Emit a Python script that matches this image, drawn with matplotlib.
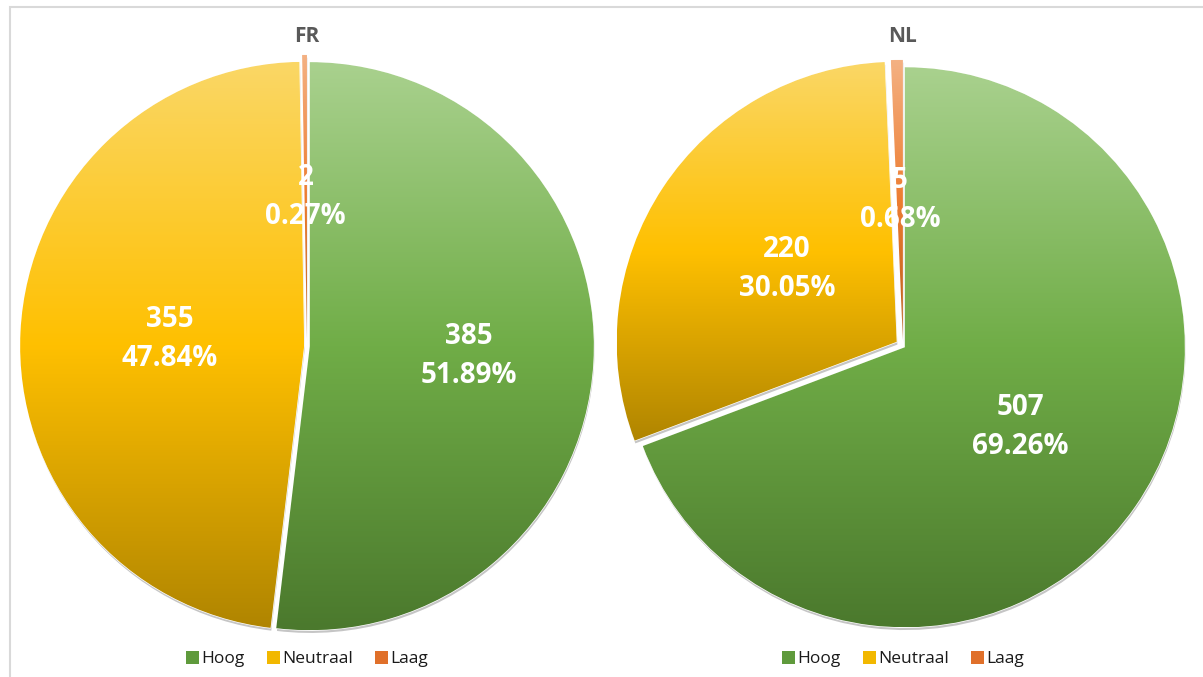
import numpy as np
import matplotlib
matplotlib.use("Agg")
import matplotlib.pyplot as plt
from matplotlib.colors import LinearSegmentedColormap
from matplotlib.patches import Patch, Rectangle
import matplotlib.patheffects as pe

plt.rcParams["font.family"] = ["Open Sans", "DejaVu Sans"]

# ---------------------------------------------------------------- data
categories = ["Hoog", "Neutraal", "Laag"]
regions = ["FR", "NL"]
fr_counts = [385, 355, 2]
nl_counts = [507, 220, 5]

# ---------------------------------------------------------------- style
base_colors = ["#70ad47", "#ffc000", "#ed7d31"]
gradients = [
    ["#a9d18e", "#70ad47", "#4b792d"],   # green
    ["#fad766", "#ffc000", "#b08500"],   # yellow
    ["#f4b183", "#ed7d31", "#b85d1c"],   # orange
]
explode = {"FR": [0.01, 0.01, 0.025], "NL": [0.008, 0.027, 0.022]}
label_r = {"FR": [0.56, 0.475, 0.50], "NL": [0.50, 0.47, 0.50]}
radius_px = {"FR": 284, "NL": 280}
centers = {"FR": (307, 346), "NL": (903, 346)}

W, H = 1203, 677
fig = plt.figure(figsize=(W / 100, H / 100), dpi=100)
fig.patch.set_facecolor("white")

# chart frame (only top / left visible in the screenshot)
fig.add_artist(Rectangle((9.5 / W, -0.1), 1.2, (H - 6.5) / H + 0.1,
                         transform=fig.transFigure, fill=False,
                         edgecolor="#d9d9d9", lw=1.5))

lim = 1.05


def fill_gradient(ax, wedge, stops):
    cmap = LinearSegmentedColormap.from_list("g", stops)
    x0, y0, x1, y1 = wedge.get_path().get_extents().extents
    grad = np.linspace(0, 1, 256).reshape(-1, 1)
    im = ax.imshow(grad, cmap=cmap, extent=[x0, x1, y0, y1], origin="upper",
                   aspect="auto", interpolation="bilinear", zorder=2)
    im.set_clip_path(wedge)


for region, counts in zip(regions, [fr_counts, nl_counts]):
    cx, cy = centers[region]
    size = 2 * lim * radius_px[region]
    ax = fig.add_axes([(cx - size / 2) / W, (H - cy - size / 2) / H,
                       size / W, size / H])
    wedges, _ = ax.pie(counts, colors=base_colors, startangle=90,
                       counterclock=False, explode=explode[region],
                       wedgeprops=dict(edgecolor="white", linewidth=1.0))
    total = sum(counts)
    for i, (w, n) in enumerate(zip(wedges, counts)):
        w.set_zorder(1)
        w.set_path_effects([pe.SimplePatchShadow(offset=(0.5, -2),
                                                 shadow_rgbFace="#7f7f7f",
                                                 alpha=0.45),
                            pe.Normal()])
        fill_gradient(ax, w, gradients[i])
        mid = np.deg2rad((w.theta1 + w.theta2) / 2)
        r = label_r[region][i]
        x = w.center[0] + r * np.cos(mid)
        y = w.center[1] + r * np.sin(mid)
        ax.text(x, y, f"{n}\n{100 * n / total:.2f}%", ha="center",
                va="center", color="white", fontsize=20, fontweight="bold",
                linespacing=1.45, zorder=5)
    ax.set_xlim(-lim, lim)
    ax.set_ylim(-lim, lim)
    ax.set_aspect("equal")
    ax.axis("off")

    fig.text(cx / W, 1 - 36 / H, region, ha="center", va="center",
             fontsize=15, fontweight="bold", color="#595959")
    handles = [Patch(facecolor=c, edgecolor="none") for c in
               ["#5f9a3c", "#f2b800", "#e0702a"]]
    fig.legend(handles, categories, loc="center",
               bbox_to_anchor=(cx / W, 1 - 659 / H), ncol=3, frameon=False,
               fontsize=12.5, handlelength=0.75, handleheight=0.75,
               handletextpad=0.12, columnspacing=1.3, labelcolor="#1a1a1a")

fig.savefig("out.png", dpi=100, facecolor="white")
